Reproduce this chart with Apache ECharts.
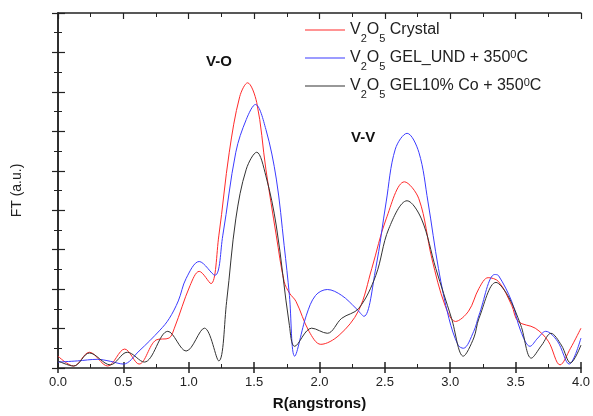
<!DOCTYPE html>
<html>
<head>
<meta charset="utf-8">
<script src="https://cdn.jsdelivr.net/npm/echarts@6/dist/echarts.min.js"></script>
<style>
  html, body { margin: 0; padding: 0; background: #fff; }
  #chart { width: 593px; height: 416px; }
</style>
</head>
<body>
<div id="chart"></div>
<script>
// x ticks (R, angstrons)
var xTicks = [0, 0.5, 1, 1.5, 2, 2.5, 3, 3.5, 4];

// V2O5 Crystal  [R, FT]
var crystal = [
    [0.00, 0.30], [0.12, 0.05], [0.24, 0.40], [0.38, 0.05], [0.51, 0.48], [0.62, 0.10],
    [0.75, 0.71], [0.85, 0.76], [0.89, 1.01], [1.01, 2.09], [1.08, 2.45], [1.17, 2.14],
    [1.23, 3.35], [1.31, 5.47], [1.39, 6.88], [1.45, 7.23], [1.52, 6.73], [1.59, 5.04],
    [1.67, 3.35], [1.73, 2.19], [1.77, 1.90], [1.82, 1.69], [1.92, 0.93], [2.01, 0.60],
    [2.15, 0.83], [2.30, 1.46], [2.40, 2.52], [2.51, 3.78], [2.65, 4.72], [2.76, 4.29],
    [2.86, 2.77], [2.96, 1.59], [3.04, 1.18], [3.14, 1.44], [3.22, 2.02], [3.29, 2.29],
    [3.37, 2.19], [3.47, 1.59], [3.52, 1.18], [3.65, 1.01], [3.75, 0.68], [3.84, 0.08],
    [3.92, 0.50], [4.00, 1.01]
];

// V2O5 GEL_UND + 350C
var gelUnd = [
    [0.00, 0.15], [0.15, 0.18], [0.30, 0.22], [0.40, 0.17], [0.50, 0.10], [0.62, 0.43],
    [0.78, 0.96], [0.85, 1.25], [0.92, 1.70], [0.98, 2.27], [1.08, 2.70], [1.20, 2.35],
    [1.26, 3.35], [1.36, 5.47], [1.44, 6.30], [1.51, 6.68], [1.59, 6.05], [1.67, 4.79],
    [1.73, 3.10], [1.77, 1.84], [1.81, 0.30], [1.90, 1.34], [1.97, 1.84], [2.06, 1.99],
    [2.17, 1.84], [2.28, 1.51], [2.34, 1.31], [2.43, 2.52], [2.51, 4.21], [2.58, 5.55],
    [2.67, 5.95], [2.76, 5.47], [2.83, 4.21], [2.91, 2.52], [2.99, 1.26], [3.06, 0.58],
    [3.10, 0.50], [3.18, 0.93], [3.22, 1.34], [3.34, 2.37], [3.37, 2.34], [3.47, 1.69],
    [3.54, 0.93], [3.61, 0.55], [3.67, 0.76], [3.73, 0.93], [3.82, 0.68], [3.91, 0.10],
    [4.00, 0.76]
];

// V2O5 GEL10% Co + 350C
var gelCo = [
    [0.00, 0.18], [0.12, 0.05], [0.24, 0.38], [0.40, 0.08], [0.53, 0.40], [0.66, 0.15],
    [0.84, 0.93], [0.98, 0.43], [1.12, 1.01], [1.23, 0.18], [1.29, 1.69], [1.36, 3.78],
    [1.44, 5.04], [1.52, 5.47], [1.59, 4.87], [1.67, 3.60], [1.77, 1.08], [1.81, 0.55],
    [1.94, 1.01], [2.06, 0.88], [2.17, 1.26], [2.30, 1.51], [2.43, 2.34], [2.53, 3.53],
    [2.67, 4.24], [2.78, 3.78], [2.89, 2.52], [3.01, 1.26], [3.10, 0.30], [3.18, 0.76],
    [3.22, 1.26], [3.35, 2.17], [3.44, 1.84], [3.54, 1.08], [3.62, 0.25], [3.70, 0.58],
    [3.77, 0.88], [3.85, 0.58], [3.92, 0.13], [4.00, 0.58]
];

var seriesNames = ['crystal', 'gelUnd', 'gelCo'];
var seriesColors = ['#ff2a2a', '#3b3bff', '#333333'];
var legendText = {
    crystal: '{n|V}{s|2}{n|O}{s|5}{n| Crystal}',
    gelUnd: '{n|V}{s|2}{n|O}{s|5}{n| GEL_UND + 350}{p|0}{n|C}',
    gelCo: '{n|V}{s|2}{n|O}{s|5}{n| GEL10% Co + 350}{p|0}{n|C}'
};

var chart = echarts.init(document.getElementById('chart'), null, { renderer: 'canvas' });

var font = 'Liberation Sans, Arial';
var frameLine = { show: true, lineStyle: { color: '#222', width: 1.5 } };

function makeSeries(name, data, color) {
    return {
        name: name,
        type: 'line',
        data: data,
        smooth: 0.35,
        showSymbol: false,
        symbol: 'none',
        lineStyle: { color: color, width: 1 },
        itemStyle: { color: color },
        silent: true,
        animation: false
    };
}

var option = {
    animation: false,
    grid: { left: 58, right: 10, top: 13, bottom: 46 },
    legend: {
        orient: 'vertical',
        left: 305,
        top: 22,
        padding: 0,
        itemWidth: 40,
        itemHeight: 1,
        itemGap: 3,
        icon: 'rect',
        data: seriesNames,
        formatter: function (name) { return legendText[name]; },
        textStyle: {
            rich: {
                n: { fontFamily: font, fontSize: 16, color: '#222', lineHeight: 22, verticalAlign: 'middle' },
                s: { fontFamily: font, fontSize: 11, color: '#222', lineHeight: 22, verticalAlign: 'bottom', padding: [0, 0, -3, 0] },
                p: { fontFamily: font, fontSize: 11, color: '#222', lineHeight: 22, verticalAlign: 'top', padding: [2, 0, 0, 0] }
            }
        }
    },
    xAxis: [
        {
            type: 'value', min: 0, max: 4, interval: 0.5, position: 'bottom',
            name: 'R(angstrons)', nameLocation: 'middle', nameGap: 28,
            nameTextStyle: { fontFamily: font, fontSize: 15, fontWeight: 'bold', color: '#111' },
            axisLine: frameLine,
            axisTick: { show: true, inside: true, length: 6, lineStyle: { color: '#222', width: 1.5 } },
            minorTick: { show: true, splitNumber: 2, length: 4, lineStyle: { color: '#222', width: 1 } },
            axisLabel: {
                fontFamily: font, fontSize: 13, color: '#222', margin: 8,
                customValues: xTicks,
                formatter: function (v) { return v.toFixed(1); }
            },
            splitLine: { show: false }
        },
        {
            type: 'value', min: 0, max: 4, interval: 0.5, position: 'bottom',
            axisLine: { show: false },
            axisTick: { show: true, inside: false, length: 5, lineStyle: { color: '#222', width: 1.5 } },
            axisLabel: { show: false },
            splitLine: { show: false }
        },
        {
            type: 'value', min: 0, max: 4, interval: 0.5, position: 'top',
            axisLine: frameLine,
            axisTick: { show: true, inside: true, length: 6, lineStyle: { color: '#222', width: 1.2 } },
            minorTick: { show: true, splitNumber: 2, length: 4, lineStyle: { color: '#222', width: 1 } },
            axisLabel: { show: false },
            splitLine: { show: false }
        }
    ],
    yAxis: [
        {
            type: 'value', min: 0, max: 9, interval: 1, position: 'left',
            name: 'FT (a.u.)', nameLocation: 'middle', nameGap: 34, nameRotate: 90,
            nameTextStyle: { fontFamily: font, fontSize: 14, color: '#222' },
            axisLine: frameLine,
            axisTick: { show: true, inside: true, length: 7, lineStyle: { color: '#222', width: 1.2 } },
            minorTick: { show: true, splitNumber: 2, length: 4, lineStyle: { color: '#222', width: 1 } },
            axisLabel: { show: false },
            splitLine: { show: false }
        },
        {
            type: 'value', min: 0, max: 9, interval: 1, position: 'right',
            axisLine: frameLine,
            axisTick: { show: true, inside: true, length: 6, lineStyle: { color: '#222', width: 1.2 } },
            minorTick: { show: true, splitNumber: 2, length: 4, lineStyle: { color: '#222', width: 1 } },
            axisLabel: { show: false },
            splitLine: { show: false }
        }
    ],
    graphic: [
        { type: 'text', left: 206, top: 54, style: { text: 'V-O', fontFamily: font, fontSize: 15, fontWeight: 'bold', fill: '#111' } },
        { type: 'text', left: 351, top: 130, style: { text: 'V-V', fontFamily: font, fontSize: 15, fontWeight: 'bold', fill: '#111' } }
    ],
    series: [
        makeSeries('crystal', crystal, seriesColors[0]),
        makeSeries('gelUnd', gelUnd, seriesColors[1]),
        makeSeries('gelCo', gelCo, seriesColors[2])
    ]
};

chart.setOption(option);
</script>
</body>
</html>
